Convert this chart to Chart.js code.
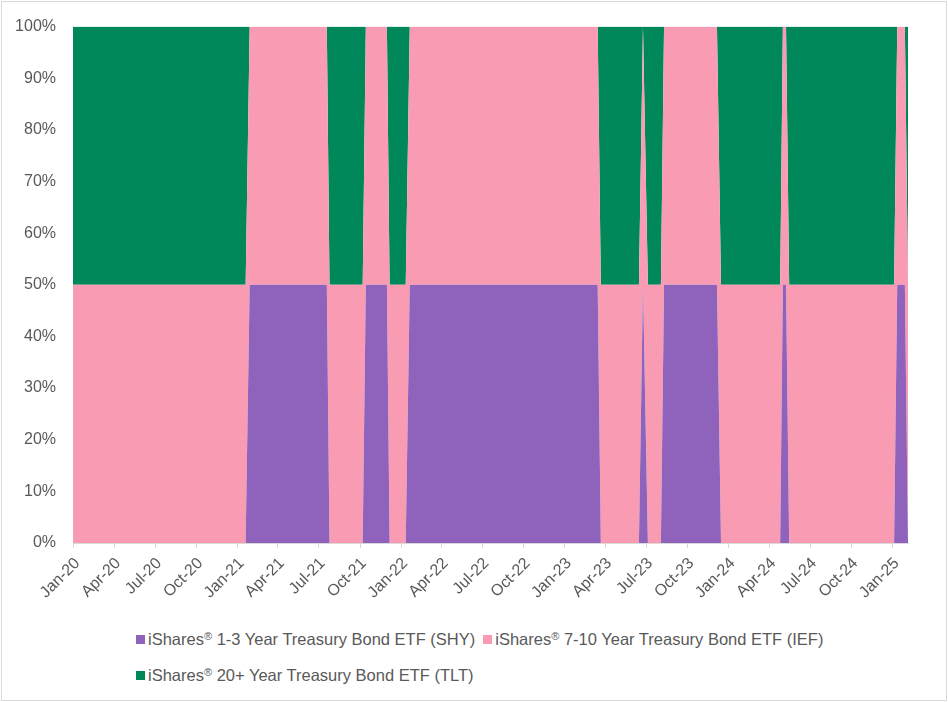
<!DOCTYPE html>
<html>
<head>
<meta charset="utf-8">
<script src="https://cdn.jsdelivr.net/npm/chart.js@4.4.1/dist/chart.umd.min.js"></script>
<style>
    html, body { margin: 0; padding: 0; background: #ffffff; }
    #frame {
        position: absolute; left: 1px; top: 1px; width: 946px; height: 700px;
        box-sizing: border-box; border: 1px solid #d9d9d9;
    }
    #chartBox { position: absolute; left: 0; top: 0; width: 948px; height: 620px; }
    #legend {
        position: absolute; left: 136px; top: 621px; width: 730px;
        display: flex; flex-wrap: wrap; column-gap: 8px;
        font-family: 'Liberation Sans', Arial, sans-serif; font-size: 16.5px;
        line-height: 36px; color: #595959; white-space: nowrap;
    }
    #legend .item { display: inline-flex; align-items: center; }
    #legend .box { display: inline-block; width: 9px; height: 9px; margin-right: 3px; }
    #legend sup { font-size: 11px; line-height: 0; vertical-align: 5px; }
</style>
</head>
<body>
<div id="frame"></div>
<div id="chartBox"><canvas id="alloc-chart" width="948" height="620"></canvas></div>
<div id="legend"></div>

<script>
// 리밸런싱 관측일 (레짐이 바뀌는 앞뒤 날짜)
const dates = [
    '2019-12-31', '2021-01-19',
    '2021-01-28', '2021-07-19',
    '2021-07-25', '2021-10-07',
    '2021-10-14', '2021-11-30',
    '2021-12-06', '2022-01-11',
    '2022-01-20', '2023-03-15',
    '2023-03-22', '2023-06-15',
    '2023-06-24',
    '2023-07-05', '2023-08-03',
    '2023-08-10', '2023-12-06',
    '2023-12-15', '2024-04-25',
    '2024-05-01', '2024-05-08',
    '2024-05-15', '2025-01-04',
    '2025-01-11', '2025-01-28',
    '2025-02-04'
];

// 비중 (%)
const shy = [0, 0, 50, 50, 0, 0, 50, 50, 0, 0, 50, 50, 0, 0, 50, 0, 0, 50, 50, 0, 0, 50, 50, 0, 0, 50, 50, 0];
const ief = [50, 50, 50, 50, 50, 50, 50, 50, 50, 50, 50, 50, 50, 50, 50, 50, 50, 50, 50, 50, 50, 50, 50, 50, 50, 50, 50, 50];
const tlt = [50, 50, 0, 0, 50, 50, 0, 0, 50, 50, 0, 0, 50, 50, 0, 50, 50, 0, 0, 50, 50, 0, 0, 50, 50, 0, 0, 50];

const seriesNames = [
    'iShares® 1-3 Year Treasury Bond ETF (SHY)',
    'iShares® 7-10 Year Treasury Bond ETF (IEF)',
    'iShares® 20+ Year Treasury Bond ETF (TLT)'
];
const seriesColors = ['#8f63bb', '#fa9bb4', '#00875a'];

// x축 눈금
const tickDates = [
    '2020-01-01', '2020-04-01', '2020-07-01', '2020-10-01',
    '2021-01-01', '2021-04-01', '2021-07-01', '2021-10-01',
    '2022-01-01', '2022-04-01', '2022-07-01', '2022-10-01',
    '2023-01-01', '2023-04-01', '2023-07-01', '2023-10-01',
    '2024-01-01', '2024-04-01', '2024-07-01', '2024-10-01',
    '2025-01-01'
];
const tickLabels = [
    'Jan-20', 'Apr-20', 'Jul-20', 'Oct-20',
    'Jan-21', 'Apr-21', 'Jul-21', 'Oct-21',
    'Jan-22', 'Apr-22', 'Jul-22', 'Oct-22',
    'Jan-23', 'Apr-23', 'Jul-23', 'Oct-23',
    'Jan-24', 'Apr-24', 'Jul-24', 'Oct-24',
    'Jan-25'
];

const FONT = "'Liberation Sans', Arial, sans-serif";
const GREY = '#595959';

// 2020-01-01 기준 일수
function dayOf(s) {
    const t = Date.UTC(+s.slice(0, 4), +s.slice(5, 7) - 1, +s.slice(8, 10));
    return (t - Date.UTC(2020, 0, 1)) / 86400000;
}

function toPoints(values) {
    return dates.map((d, i) => ({ x: dayOf(d), y: values[i] }));
}

document.addEventListener('DOMContentLoaded', function() {
    const allValues = [shy, ief, tlt];

    const datasets = allValues.map((vals, i) => ({
        label: seriesNames[i],
        data: toPoints(vals),
        backgroundColor: seriesColors[i],
        borderColor: 'rgba(0,0,0,0)',
        borderWidth: 0,
        pointRadius: 0,
        tension: 0,
        fill: i === 0 ? 'origin' : '-1'
    }));

    const myChart = new Chart(document.getElementById('alloc-chart'), {
        type: 'line',
        data: { datasets: datasets },
        options: {
            responsive: false,
            animation: false,
            events: [],
            layout: { padding: { left: 0, right: 40, top: 24, bottom: 0 } },
            plugins: {
                legend: { display: false },
                tooltip: { enabled: false }
            },
            scales: {
                x: {
                    type: 'linear',
                    min: dayOf(dates[0]),
                    max: dayOf(dates[dates.length - 1]),
                    afterBuildTicks: scale => {
                        scale.ticks = tickDates.map(d => ({ value: dayOf(d) }));
                    },
                    afterFit: scale => { scale.height = 77; },
                    ticks: {
                        autoSkip: false,
                        minRotation: 45,
                        maxRotation: 45,
                        padding: 6,
                        labelOffset: 4,
                        color: GREY,
                        font: { family: FONT, size: 16 },
                        callback: (value, index) => tickLabels[index]
                    },
                    grid: {
                        drawOnChartArea: false,
                        drawTicks: true,
                        tickLength: 5,
                        color: '#d9d9d9'
                    },
                    border: { color: '#d9d9d9', width: 1 }
                },
                y: {
                    stacked: true,
                    min: 0,
                    max: 100,
                    afterFit: scale => { scale.width = 73; },
                    ticks: {
                        stepSize: 10,
                        padding: 17,
                        color: GREY,
                        font: { family: FONT, size: 16 },
                        callback: value => value + '%'
                    },
                    grid: { display: false, drawTicks: false },
                    border: { display: false }
                }
            }
        }
    });

    // 범례 (HTML)
    const legendEl = document.getElementById('legend');
    myChart.data.datasets.forEach(ds => {
        const item = document.createElement('span');
        item.className = 'item';
        const box = document.createElement('span');
        box.className = 'box';
        box.style.backgroundColor = ds.backgroundColor;
        item.appendChild(box);
        const text = document.createElement('span');
        const parts = ds.label.split('®');
        text.appendChild(document.createTextNode(parts[0]));
        if (parts.length > 1) {
            const sup = document.createElement('sup');
            sup.textContent = '®';
            text.appendChild(sup);
            text.appendChild(document.createTextNode(parts[1]));
        }
        item.appendChild(text);
        legendEl.appendChild(item);
    });
});
</script>
</body>
</html>
